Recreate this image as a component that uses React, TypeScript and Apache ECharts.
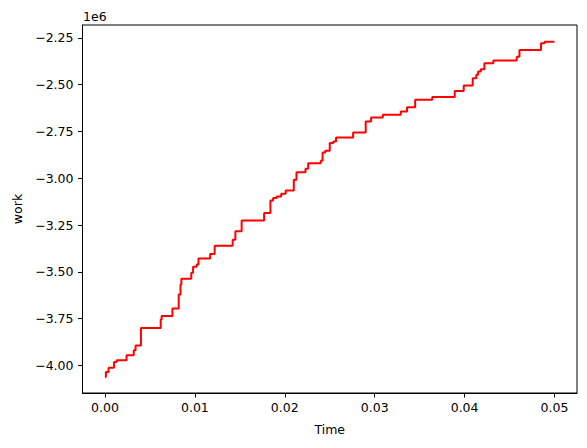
import React, { useEffect, useRef } from "react";
import * as echarts from "echarts";

// Step curve: each point is where the new level starts (time, work in units of 1e6)
const timeValues = [
  0.0, 0.0001, 0.0004, 0.001, 0.0013, 0.0024, 0.0032, 0.0034, 0.004, 0.0062,
  0.0063, 0.0075, 0.0082, 0.0084, 0.0085, 0.0096, 0.0098, 0.0102, 0.0104, 0.0117,
  0.0122, 0.0142, 0.0145, 0.0152, 0.0177, 0.0184, 0.0187, 0.0191, 0.0196, 0.0201,
  0.021, 0.0213, 0.0223, 0.0226, 0.024, 0.0242, 0.0245, 0.025, 0.0254, 0.0257,
  0.0276, 0.029, 0.0296, 0.0309, 0.0329, 0.0336, 0.0345, 0.0364, 0.0389, 0.0399,
  0.0409, 0.0413, 0.0415, 0.0418, 0.0422, 0.0432, 0.0458, 0.0461, 0.0485, 0.0489,
  0.05,
];
const workValues = [
  -4.062, -4.035, -4.012, -3.982, -3.972, -3.945, -3.918, -3.893, -3.8, -3.755,
  -3.735, -3.696, -3.621, -3.568, -3.537, -3.505, -3.473, -3.461, -3.429, -3.404,
  -3.36, -3.328, -3.283, -3.226, -3.185, -3.118, -3.105, -3.097, -3.082, -3.065,
  -3.008, -2.968, -2.949, -2.919, -2.906, -2.862, -2.853, -2.812, -2.803, -2.782,
  -2.755, -2.697, -2.675, -2.661, -2.643, -2.62, -2.581, -2.566, -2.533, -2.504,
  -2.465, -2.447, -2.43, -2.417, -2.385, -2.371, -2.35, -2.314, -2.278, -2.27,
  -2.27,
];
const xTicks = [0, 0.01, 0.02, 0.03, 0.04, 0.05];
const yTicks = [-4.0, -3.75, -3.5, -3.25, -3.0, -2.75, -2.5, -2.25];

const FONT = "DejaVu Sans";

export default function App() {
  const ref = useRef<HTMLDivElement>(null);
  useEffect(() => {
    if (!ref.current) return;
    const chart = echarts.init(ref.current, undefined, { renderer: "svg" });
    const data = timeValues.map((t, i) => [t, workValues[i]]);
    chart.setOption({
      animation: false,
      backgroundColor: "#ffffff",
      grid: {
        left: 82.5,
        right: 10,
        top: 25,
        bottom: 55,
        show: true,
        borderColor: "#000",
        borderWidth: 1,
        backgroundColor: "transparent",
      },
      xAxis: {
        type: "value",
        min: -0.0025,
        max: 0.0525,
        name: "Time",
        nameLocation: "middle",
        nameGap: 30,
        nameTextStyle: { color: "#000", fontSize: 12.5, fontFamily: FONT },
        splitLine: { show: false },
        axisLine: { show: true, onZero: false, lineStyle: { color: "#000", width: 1 } },
        axisTick: {
          show: true,
          length: 4.5,
          customValues: xTicks,
          lineStyle: { color: "#000", width: 1 },
        },
        axisLabel: {
          customValues: xTicks,
          color: "#000",
          fontSize: 12.5,
          fontFamily: FONT,
          margin: 8,
          formatter: (v: number) => v.toFixed(2),
        },
      },
      yAxis: {
        type: "value",
        min: -4.147,
        max: -2.181,
        name: "work",
        nameLocation: "middle",
        nameGap: 58,
        nameRotate: 90,
        nameTextStyle: { color: "#000", fontSize: 12.5, fontFamily: FONT },
        splitLine: { show: false },
        axisLine: { show: true, onZero: false, lineStyle: { color: "#000", width: 1 } },
        axisTick: {
          show: true,
          length: 4.5,
          customValues: yTicks,
          lineStyle: { color: "#000", width: 1 },
        },
        axisLabel: {
          customValues: yTicks,
          color: "#000",
          fontSize: 12.5,
          fontFamily: FONT,
          margin: 9,
          formatter: (v: number) => v.toFixed(2).replace("-", "\u2212"),
        },
      },
      graphic: [
        {
          type: "text",
          left: 83,
          top: 10,
          style: { text: "1e6", fill: "#000", fontSize: 12.5, fontFamily: FONT },
        },
      ],
      series: [
        {
          type: "line",
          step: "end",
          data,
          showSymbol: false,
          symbol: "none",
          lineStyle: { color: "#ff0000", width: 2 },
        },
      ],
    });
    return () => chart.dispose();
  }, []);
  return (
    <div
      ref={ref}
      style={{ position: "absolute", left: 0, top: 0, width: 587, height: 448 }}
    />
  );
}
